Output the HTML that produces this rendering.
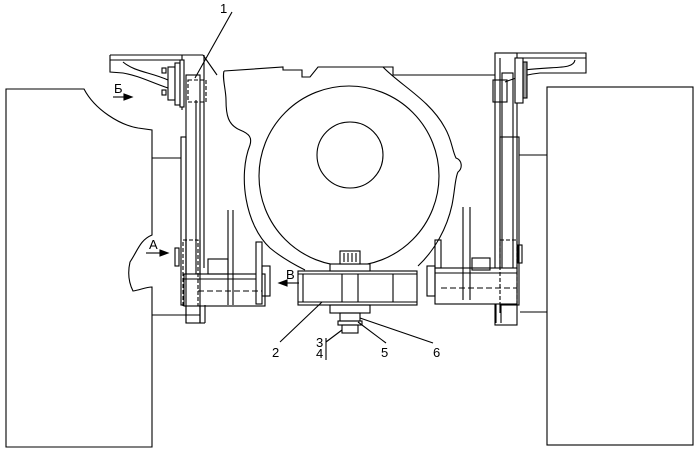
<!DOCTYPE html><html><head><style>body{margin:0;background:#fff}svg{display:block}text{font-family:"Liberation Sans",sans-serif;font-size:13px;fill:#000}</style></head><body>
<svg width="700" height="453" viewBox="0 0 700 453" fill="none" stroke="#000" stroke-width="1.1">
<!-- left block -->
<path d="M6,89 L84,89 C95,110 120,125 138,128 L152,130 L152,235 C140,240 138,250 130,262 C127,275 130,285 133,291 C140,290 146,287 152,287 L152,447 L6,447 Z"/>
<line x1="152" y1="158" x2="181" y2="158"/><line x1="152" y1="315" x2="200" y2="315"/>
<!-- right block -->
<rect x="547" y="87" width="146" height="358"/>
<line x1="519" y1="155" x2="547" y2="155"/><line x1="520" y1="312" x2="547" y2="312"/>
<!-- housing -->
<path d="M224,71 L283,67 L283,70 L302,70 L302,77 L310,77 L318,67 L393,67 L393,75 L495,75"/>
<path d="M224,71 C222,78 226,90 226,100 C226,115 228,125 240,130 C250,134 252,138 250,145 C238,175 245,225 270,248 C282,258 295,265 305,270"/>
<path d="M383,67 C400,85 430,100 445,128 C452,140 452,150 456,158 C462,160 463,168 458,172 C455,178 455,190 452,205 C447,228 435,250 418,266"/>
<circle cx="349" cy="176" r="90"/>
<circle cx="350" cy="155" r="33"/>
<!-- fan -->
<rect x="298" y="271" width="119" height="34" fill="#fff"/>
<line x1="298" y1="274" x2="417" y2="274"/><line x1="298" y1="302" x2="417" y2="302"/>
<line x1="303" y1="274" x2="303" y2="302"/><line x1="342" y1="274" x2="342" y2="302"/><line x1="358" y1="274" x2="358" y2="302"/><line x1="393" y1="274" x2="393" y2="302"/>
<rect x="330" y="264" width="40" height="7" fill="#fff"/>
<rect x="340" y="251" width="20" height="13" fill="#fff"/>
<line x1="344" y1="253" x2="344" y2="262"/><line x1="348" y1="253" x2="348" y2="262"/><line x1="352" y1="253" x2="352" y2="262"/><line x1="356" y1="253" x2="356" y2="262"/>
<rect x="330" y="305" width="40" height="8"/>
<rect x="340" y="313" width="20" height="8"/>
<rect x="338" y="321" width="24" height="4"/>
<rect x="342" y="325" width="16" height="8"/>
<!-- left top bracket -->
<path d="M110,55 L203,55 M110,60 L182,60 M110,55 L110,72 L123,73 C140,76 150,82 168,88 M123,62 C135,72 150,72 168,80"/>
<line x1="203" y1="55" x2="217" y2="75"/>
<line x1="182" y1="55" x2="182" y2="110"/><line x1="204" y1="55" x2="204" y2="268"/>
<rect x="168" y="67" width="7" height="33" fill="#fff"/><rect x="175" y="63" width="5" height="42" fill="#fff"/><rect x="180" y="60" width="4" height="47" fill="#fff"/>
<rect x="162" y="68" width="4" height="5"/><rect x="162" y="90" width="4" height="5"/>
<rect x="186" y="75" width="14" height="248"/>
<rect x="188" y="80" width="18" height="22" stroke-dasharray="4,2"/>
<rect x="181" y="137" width="5" height="168"/>
<line x1="196" y1="100" x2="196" y2="300"/>
<!-- left lower box -->
<rect x="184" y="274" width="81" height="32" fill="#fff"/><line x1="184" y1="279" x2="262" y2="279"/>
<rect x="183" y="240" width="15" height="66" stroke-dasharray="4,2"/>
<line x1="186" y1="240" x2="186" y2="323"/><line x1="200" y1="240" x2="200" y2="323"/>
<line x1="228" y1="210" x2="228" y2="305"/><line x1="233" y1="210" x2="233" y2="305"/>
<rect x="208" y="259" width="20" height="15"/><rect x="256" y="242" width="6" height="62" fill="#fff"/>
<rect x="262" y="266" width="8" height="30"/>
<line x1="200" y1="305" x2="200" y2="323"/><line x1="205" y1="305" x2="205" y2="323"/><line x1="200" y1="323" x2="205" y2="323"/>
<path d="M198,291 L262,291" stroke-dasharray="6,3"/>
<rect x="175" y="248" width="4" height="18"/>
<!-- right top bracket -->
<path d="M495,53 L586,53 L586,73 L540,73 C528,74 515,78 505,82 M517,58 L586,58 M575,60 C573,70 555,66 525,70"/>
<rect x="495" y="53" width="22" height="272"/>
<line x1="500" y1="58" x2="500" y2="313"/>
<rect x="502" y="73" width="11" height="227"/>
<rect x="515" y="58" width="8" height="45" fill="#fff"/><rect x="523" y="62" width="4" height="36" fill="#999"/>
<rect x="493" y="80" width="14" height="22"/>
<line x1="420" y1="75" x2="495" y2="75"/>
<rect x="500" y="137" width="19" height="168"/>
<!-- right lower box -->
<rect x="435" y="268" width="82" height="36" fill="#fff"/><line x1="435" y1="273" x2="517" y2="273"/>
<rect x="500" y="240" width="17" height="64" stroke-dasharray="4,2"/>
<line x1="463" y1="207" x2="463" y2="300"/><line x1="470" y1="207" x2="470" y2="300"/>
<rect x="472" y="258" width="18" height="12"/><rect x="435" y="240" width="6" height="28"/>
<rect x="427" y="266" width="8" height="30"/>
<line x1="496" y1="304" x2="496" y2="323"/><line x1="501" y1="304" x2="501" y2="323"/>
<path d="M441,288 L517,288" stroke-dasharray="6,3"/>
<rect x="518" y="245" width="4" height="18"/>
<!-- leaders -->
<line x1="232" y1="12" x2="195" y2="78"/>
<line x1="280" y1="342" x2="322" y2="302"/>
<line x1="326" y1="342" x2="342" y2="330"/><line x1="326" y1="338" x2="326" y2="360"/>
<line x1="386" y1="343" x2="358" y2="322"/>
<line x1="433" y1="343" x2="360" y2="318"/>
<!-- arrows -->
<path d="M113,97 L124,97"/><path d="M124,94 L132,97 L124,100Z" fill="#000"/>
<path d="M146,253 L160,253"/><path d="M160,250 L168,253 L160,256Z" fill="#000"/>
<path d="M287,283 L299,283"/><path d="M287,280 L279,283 L287,286Z" fill="#000"/>
</svg>
<svg width="700" height="453" style="position:absolute;left:0;top:0" stroke="none">
<text x="220" y="13">1</text><text x="114" y="93">Б</text><text x="149" y="249">А</text><text x="286" y="279">В</text>
<text x="272" y="357">2</text><text x="316" y="347">3</text><text x="316" y="358">4</text><text x="381" y="357">5</text><text x="433" y="357">6</text>
</svg>
</body></html>
